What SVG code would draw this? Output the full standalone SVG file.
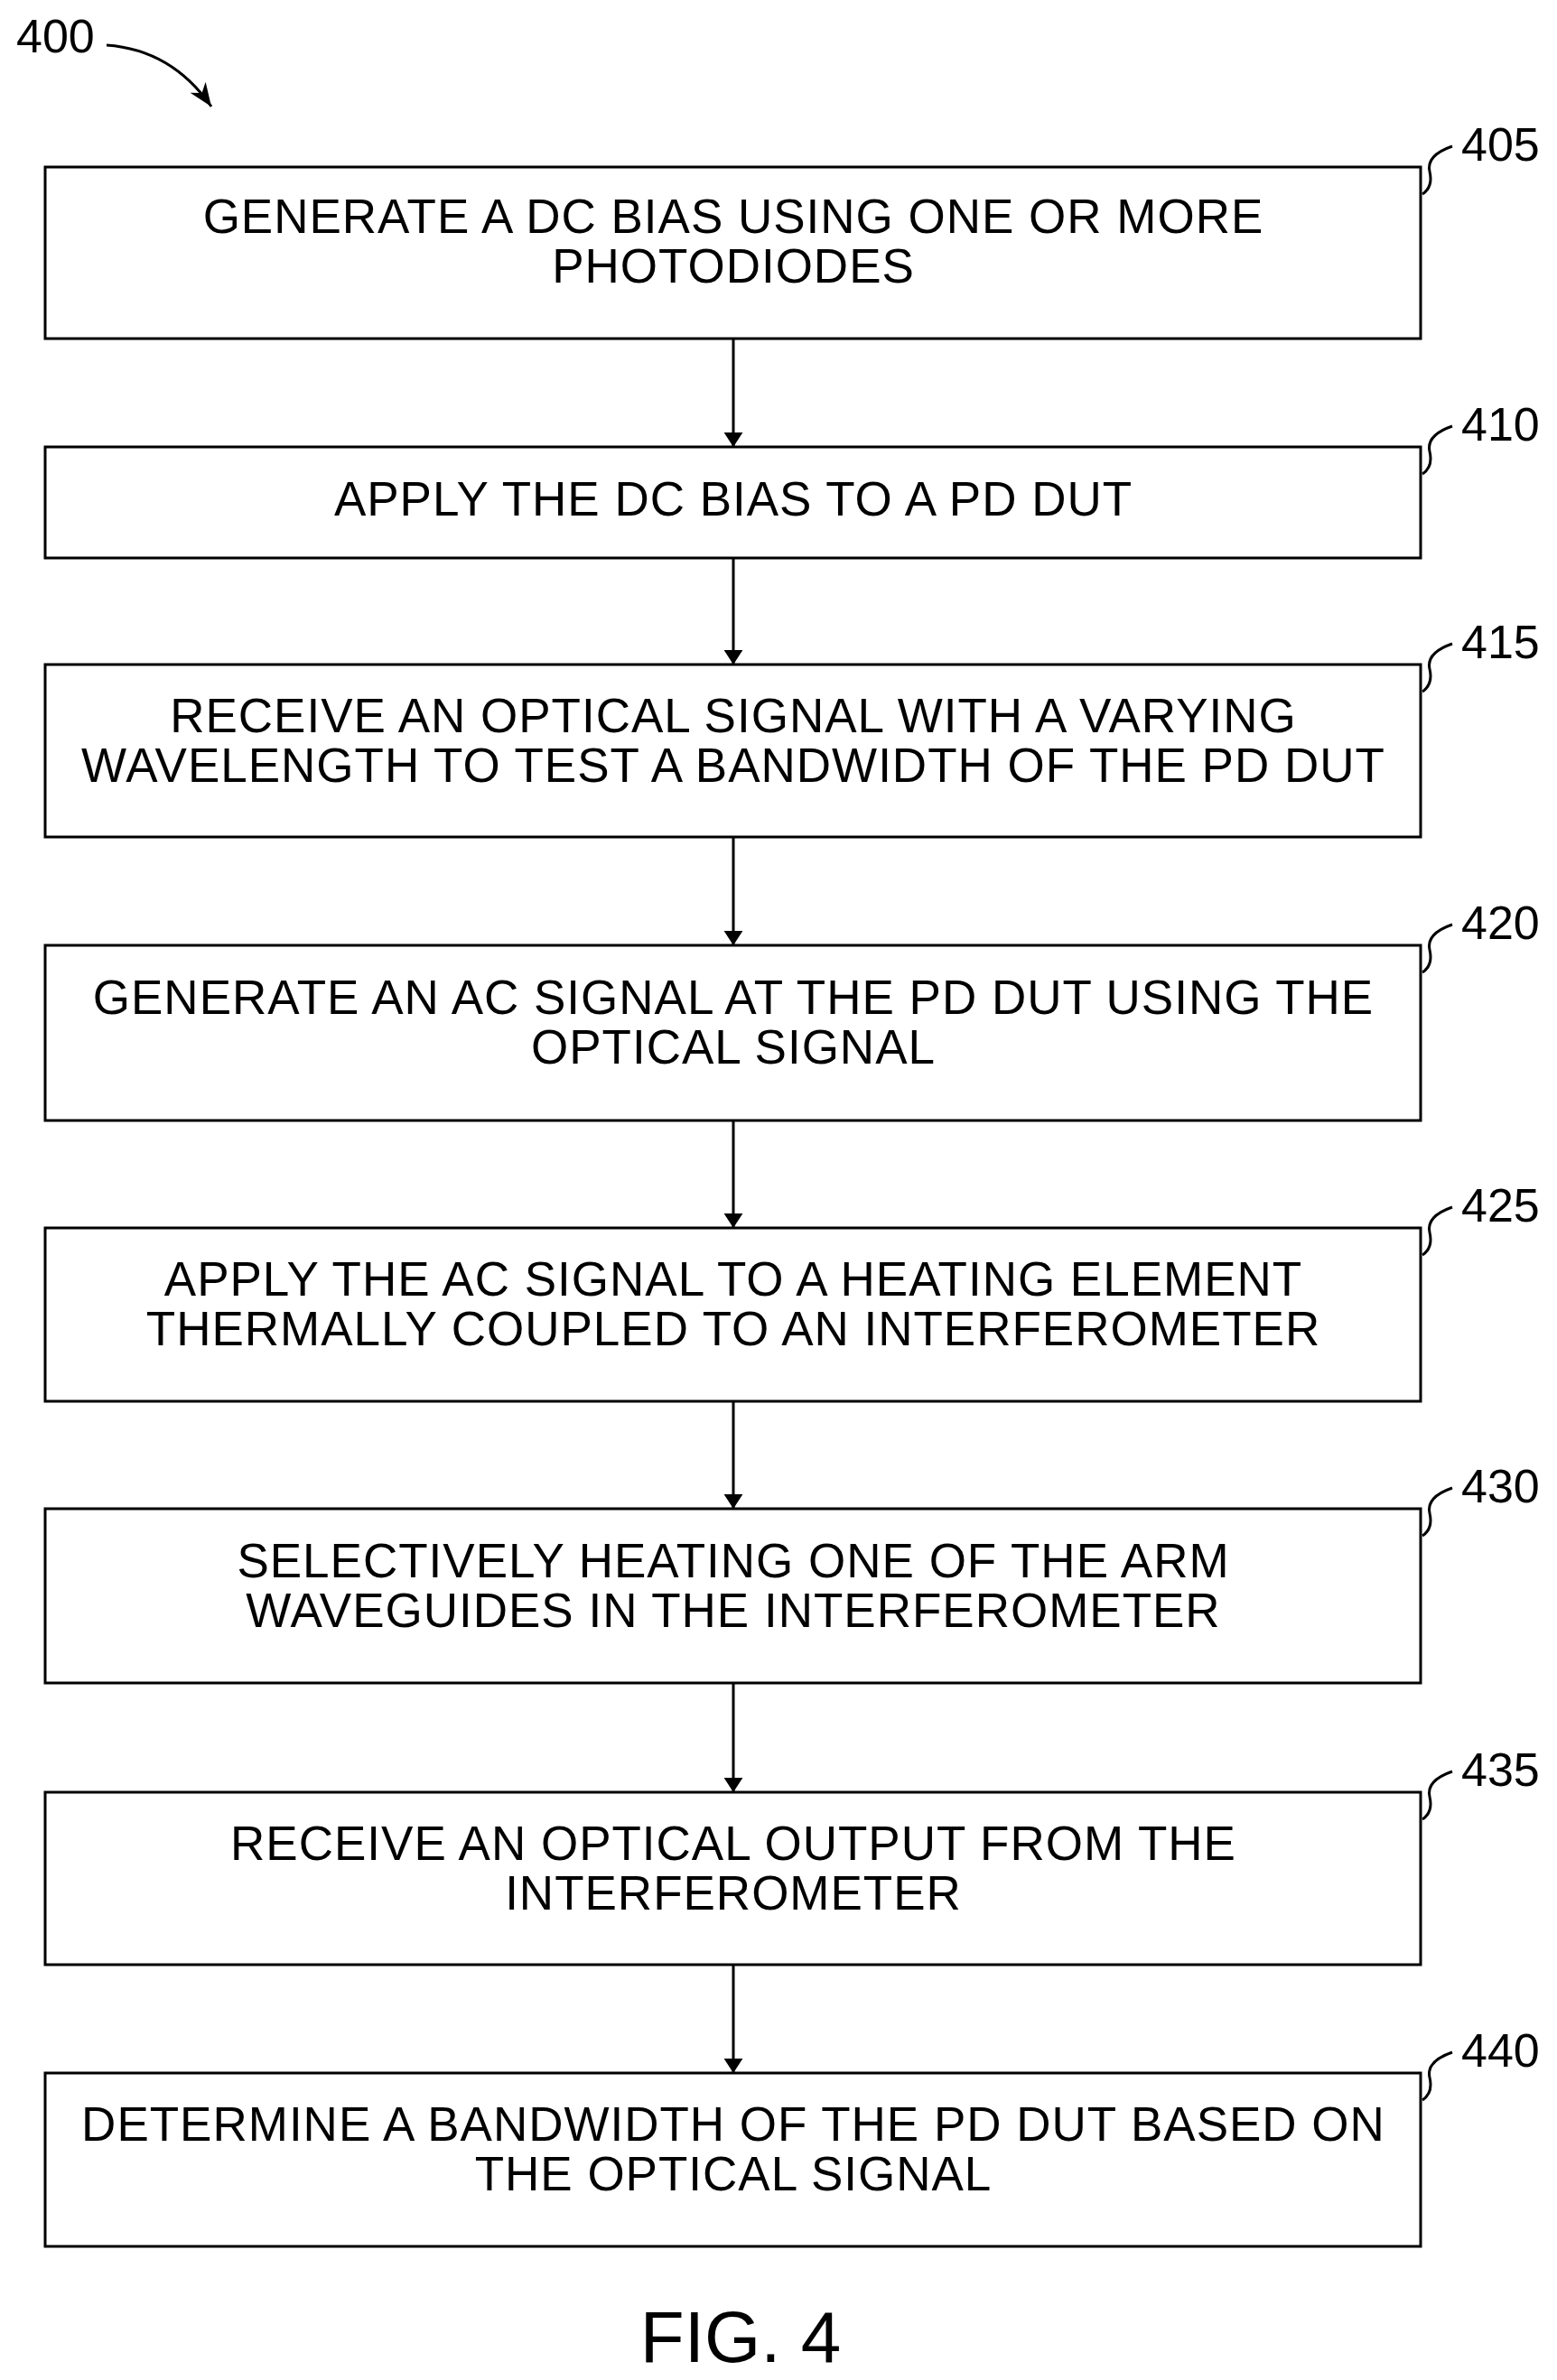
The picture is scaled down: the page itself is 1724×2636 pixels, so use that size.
<svg xmlns="http://www.w3.org/2000/svg" width="1724" height="2636" viewBox="0 0 1724 2636">
<style>
.b{fill:#fff;stroke:#000;stroke-width:3}
.t{font-family:"Liberation Sans",Arial,sans-serif;font-size:53px;text-anchor:middle;dominant-baseline:central;letter-spacing:1px}
.l{font-family:"Liberation Sans",Arial,sans-serif;font-size:52px;dominant-baseline:central}
.c{fill:none;stroke:#000;stroke-width:3}
</style>
<defs><marker id="a" markerWidth="16" markerHeight="26" refX="10" refY="5" orient="auto" markerUnits="userSpaceOnUse" viewBox="0 0 10 10" preserveAspectRatio="none"><path d="M0 1L10 5L0 9z"/></marker>
<marker id="a2" markerWidth="26" markerHeight="26" refX="10" refY="5" orient="auto" markerUnits="userSpaceOnUse" viewBox="0 0 10 10"><path d="M0 1L10 5L0 9L3 5z"/></marker></defs>
<text class="l" x="18" y="40">400</text>
<path class="c" d="M118 50 Q190 55 234 118" marker-end="url(#a2)"/>
<g id="connectors">
<path class="c" d="M812 375V495" marker-end="url(#a)"/>
<path class="c" d="M812 618V736" marker-end="url(#a)"/>
<path class="c" d="M812 927V1047" marker-end="url(#a)"/>
<path class="c" d="M812 1241V1360" marker-end="url(#a)"/>
<path class="c" d="M812 1552V1671" marker-end="url(#a)"/>
<path class="c" d="M812 1864V1985" marker-end="url(#a)"/>
<path class="c" d="M812 2176V2296" marker-end="url(#a)"/>
</g>
<g id="n405"><rect class="b" x="50" y="185" width="1523" height="190"/><text class="t" x="812" y="239">GENERATE A DC BIAS USING ONE OR MORE</text><text class="t" x="812" y="294">PHOTODIODES</text><path class="c" d="M1575 215q12-8 8-25q-4-18 25-28"/><text class="l" x="1618" y="160">405</text></g>
<g id="n410"><rect class="b" x="50" y="495" width="1523" height="123"/><text class="t" x="812" y="552">APPLY THE DC BIAS TO A PD DUT</text><path class="c" d="M1575 525q12-8 8-25q-4-18 25-28"/><text class="l" x="1618" y="470">410</text></g>
<g id="n415"><rect class="b" x="50" y="736" width="1523" height="191"/><text class="t" x="812" y="792">RECEIVE AN OPTICAL SIGNAL WITH A VARYING</text><text class="t" x="812" y="847">WAVELENGTH TO TEST A BANDWIDTH OF THE PD DUT</text><path class="c" d="M1575 766q12-8 8-25q-4-18 25-28"/><text class="l" x="1618" y="711">415</text></g>
<g id="n420"><rect class="b" x="50" y="1047" width="1523" height="194"/><text class="t" x="812" y="1104">GENERATE AN AC SIGNAL AT THE PD DUT USING THE</text><text class="t" x="812" y="1159">OPTICAL SIGNAL</text><path class="c" d="M1575 1077q12-8 8-25q-4-18 25-28"/><text class="l" x="1618" y="1022">420</text></g>
<g id="n425"><rect class="b" x="50" y="1360" width="1523" height="192"/><text class="t" x="812" y="1416">APPLY THE AC SIGNAL TO A HEATING ELEMENT</text><text class="t" x="812" y="1471">THERMALLY COUPLED TO AN INTERFEROMETER</text><path class="c" d="M1575 1390q12-8 8-25q-4-18 25-28"/><text class="l" x="1618" y="1335">425</text></g>
<g id="n430"><rect class="b" x="50" y="1671" width="1523" height="193"/><text class="t" x="812" y="1728">SELECTIVELY HEATING ONE OF THE ARM</text><text class="t" x="812" y="1783">WAVEGUIDES IN THE INTERFEROMETER</text><path class="c" d="M1575 1701q12-8 8-25q-4-18 25-28"/><text class="l" x="1618" y="1646">430</text></g>
<g id="n435"><rect class="b" x="50" y="1985" width="1523" height="191"/><text class="t" x="812" y="2041">RECEIVE AN OPTICAL OUTPUT FROM THE</text><text class="t" x="812" y="2096">INTERFEROMETER</text><path class="c" d="M1575 2015q12-8 8-25q-4-18 25-28"/><text class="l" x="1618" y="1960">435</text></g>
<g id="n440"><rect class="b" x="50" y="2296" width="1523" height="192"/><text class="t" x="812" y="2352">DETERMINE A BANDWIDTH OF THE PD DUT BASED ON</text><text class="t" x="812" y="2407">THE OPTICAL SIGNAL</text><path class="c" d="M1575 2326q12-8 8-25q-4-18 25-28"/><text class="l" x="1618" y="2271">440</text></g>
<text class="t" x="820" y="2588" style="font-size:80px;letter-spacing:0">FIG. 4</text>
</svg>
